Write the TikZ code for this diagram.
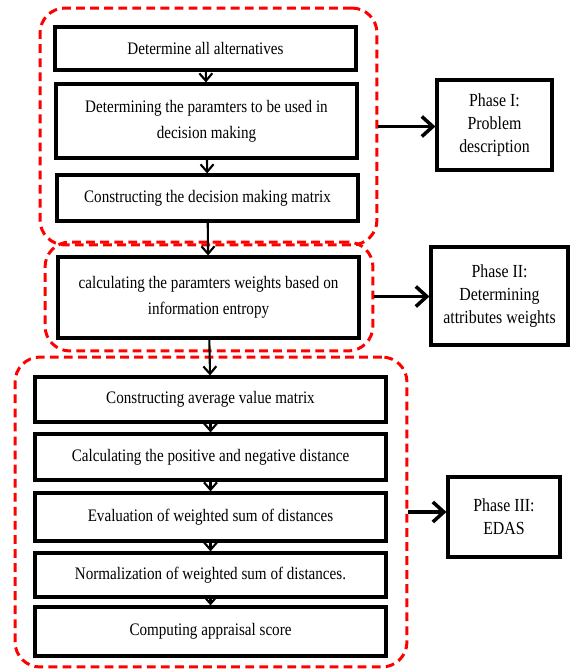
\documentclass[tikz,border=0pt]{standalone}
\usepackage{fontspec}
\setmainfont{Liberation Serif}[FakeStretch=0.86]
\usetikzlibrary{positioning,arrows.meta}

\begin{document}
\begin{tikzpicture} [
	x=0.02cm,y=-0.02cm,
	text centered,align=center,
	font=\fontsize{10}{15}\selectfont,
	nstep/.style={
		rectangle,minimum width=6.02cm,draw=black,
		line width=1.8pt,inner sep=0pt
	},
	nwide/.style={
		nstep,minimum width=7.02cm
	},
	nphase/.style={
		rectangle,draw=black,line width=1.8pt,inner sep=0pt,
		font=\fontsize{10.5}{13}\selectfont
	},
	ngroup/.style={
		rectangle,rounded corners=0.5cm,draw=red,line width=1.7pt,
		dash pattern=on 5pt off 3pt,inner sep=0pt
	},
	nlink/.style={{Straight Barb[length=1.5mm,width=2.6mm]}-,line width=1.2pt},
	nphaselink/.style={-{Straight Barb[length=2.2mm,width=4mm]},line width=2pt}
]
\useasboundingbox (0,0) rectangle (569,669);
% phase groups
\node [ngroup,minimum width=6.74cm,minimum height=4.74cm]	(grpone) at (208.5,126.5)	{};
\node [ngroup,minimum width=6.56cm,minimum height=2.18cm]	(grptwo) at (209,296.5)		{};
\node [ngroup,minimum width=7.84cm,minimum height=6.2cm]	(grpthree) at (211,512)		{};
% phase I
\node [nstep,minimum height=0.86cm]	(alts) at (205.5,48.5)		{Determine all alternatives};
\node [nstep,minimum height=1.48cm]	(params) at (206.5,121)		{Determining the paramters to be used in\\decision making}
	edge [nlink]		(alts);
\node [nstep,minimum height=0.92cm]	(matrix) at (207.5,198)		{Constructing the decision making matrix}
	edge [nlink]		(params);
% phase II
\node [nstep,minimum height=1.62cm]	(weights) at (208.5,297.5)	{calculating the paramters weights based on\\information entropy}
	edge [nlink]		(matrix);
% phase III
\node [nwide,minimum height=0.9cm]	(avg) at (210.5,399.5)		{Constructing average value matrix}
	edge [nlink]		(weights);
\node [nwide,minimum height=0.92cm]	(dist) at (210.5,457)		{Calculating the positive and negative distance}
	edge [nlink]		(avg);
\node [nwide,minimum height=0.96cm]	(wsum) at (210.5,517)		{Evaluation of weighted sum of distances}
	edge [nlink]		(dist);
\node [nwide,minimum height=0.88cm]	(norm) at (210.5,575)		{Normalization of weighted sum of distances.}
	edge [nlink]		(wsum);
\node [nwide,minimum height=0.98cm]	(score) at (210.5,631.5)	{Computing appraisal score}
	edge [nlink]		(norm);
% phase labels
\node [nphase,minimum width=2.3cm,minimum height=1.8cm]	(phone) at (494.5,125)	{Phase I:\\Problem\\description};
\node [nphase,minimum width=2.74cm,minimum height=1.96cm]	(phtwo) at (499.5,296)	{Phase II:\\Determining\\attributes weights};
\node [nphase,minimum width=2.24cm,minimum height=1.6cm]	(phthree) at (504,517)	{Phase III:\\EDAS};
\draw [nphaselink] (grpone.east) -- (grpone.east -| phone.west);
\draw [nphaselink] (grptwo.east) -- (grptwo.east -| phtwo.west);
\draw [nphaselink] (grpthree.east) -- (grpthree.east -| phthree.west);
\end{tikzpicture}
\end{document}
